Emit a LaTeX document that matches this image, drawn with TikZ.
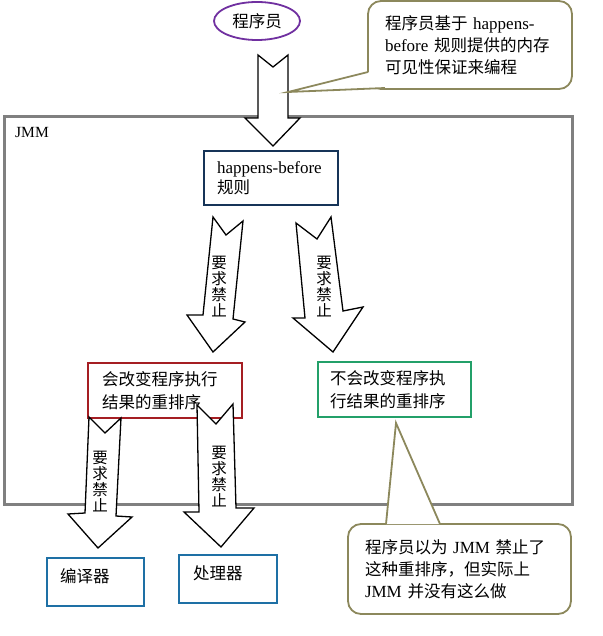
\documentclass[tikz,border=0pt]{standalone}
\usepackage{fontspec}
\setmainfont{Liberation Serif}
\newfontfamily\cjk{Noto Sans CJK SC}
\usetikzlibrary{shapes.geometric}
\definecolor{zise}{RGB}{112,48,160}
\definecolor{kuanghui}{RGB}{128,128,128}
\definecolor{shenlan}{RGB}{22,52,88}
\definecolor{anhong}{RGB}{165,30,35}
\definecolor{lvse}{RGB}{35,160,105}
\definecolor{lanse}{RGB}{30,112,165}
\definecolor{ganlan}{RGB}{140,136,92}

\begin{document}
\begin{tikzpicture}[x=1pt, y=-1pt,
    kuang/.style={draw, line width=1.8pt, minimum height=55pt, align=left,
                  font=\fontsize{17}{22}\selectfont},
    zhkuang/.style={kuang, font=\cjk\fontsize{16.5}{23}\selectfont},
    jiantou/.style={draw=black, fill=white, line width=1.3pt, line join=miter},
    shuzi/.style={font=\cjk\fontsize{15.5}{16}\selectfont, align=center, inner sep=0pt},
    shuoming/.style={draw=ganlan, fill=white, line width=1.8pt, rounded corners=13pt,
                     align=left, inner xsep=17pt, font=\fontsize{17}{22}\selectfont},
    jianjian/.style={draw=ganlan, line width=1.8pt}]
    \useasboundingbox (0,0) rectangle (602,636);
    % JMM 框
    \node[draw=kuanghui, line width=3pt, minimum width=568pt, minimum height=387pt]
          (jmm) at (288,310.5) {};
    \node[font=\fontsize{15.5}{18}\selectfont, anchor=west, inner sep=0pt] (jmmbiao) at (15,133) {JMM};
    % 程序员
    \node[ellipse, draw=zise, line width=1.8pt, minimum width=86pt, minimum height=38pt,
          inner sep=0pt, font=\cjk\fontsize{16.5}{20}\selectfont] (chengxuyuan) at (257,21) {程序员};
    % 规则与重排序
    \node[kuang, draw=shenlan, minimum width=134pt, minimum height=54pt, text width=108pt,
          inner xsep=13pt, font=\fontsize{17}{20}\selectfont] (guize) at (271,178)
          {happens-before\\{\cjk\fontsize{16.5}{20}\selectfont 规则}};
    \node[zhkuang, draw=anhong, minimum width=154pt, text width=126pt, inner xsep=14pt]
          (hui) at (165,390.5) {会改变程序执行\\结果的重排序};
    \node[zhkuang, draw=lvse, minimum width=153pt, text width=129pt, inner xsep=12pt]
          (buhui) at (394.5,389.5) {不会改变程序执\\行结果的重排序};
    \node[zhkuang, draw=lanse, minimum width=97pt, minimum height=48pt, text width=71pt,
          inner xsep=13pt, text depth=12pt] (bianyiqi) at (95.5,582) {编译器};
    \node[zhkuang, draw=lanse, minimum width=98pt, minimum height=48pt, text width=70pt,
          inner xsep=14pt, text depth=12pt] (chuliqi) at (228,579) {处理器};
    % 箭头
    \draw[jiantou] (258,55) -- (273,67) -- (288,55) -- (288,118) -- (300,118)
          -- (273,146) -- (245,118) -- (258,118) -- cycle;
    \draw[jiantou] (213,217) -- (226,235) -- (243,221) -- (233,319) -- (245,322)
          -- (213,352) -- (187,315) -- (203,315) -- cycle;
    \draw[jiantou] (296,223) -- (317,239) -- (331,217) -- (343,311) -- (363,307)
          -- (333,352) -- (293,318) -- (305,318) -- cycle;
    \draw[jiantou] (89,417) -- (105,433) -- (121,418) -- (116,516) -- (132,517)
          -- (98,548) -- (68,514) -- (85,513) -- cycle;
    \draw[jiantou] (197,405) -- (216,424) -- (233,404) -- (236,508) -- (254,508)
          -- (221,547) -- (184,512) -- (199,512) -- cycle;
    \node[shuzi] (yaoqiu1) at (219,287) {要\\求\\禁\\止};
    \node[shuzi] (yaoqiu2) at (324,287) {要\\求\\禁\\止};
    \node[shuzi] (yaoqiu3) at (100,482) {要\\求\\禁\\止};
    \node[shuzi] (yaoqiu4) at (219,477) {要\\求\\禁\\止};
    % 说明
    \node[shuoming, minimum width=204pt, minimum height=88pt, text width=170pt]
          (shuoming1) at (470,45)
          {{\cjk\fontsize{16.5}{22}\selectfont 程序员基于} happens-\\before {\cjk\fontsize{16.5}{22}\selectfont 规则提供的内存}\\{\cjk\fontsize{16.5}{22}\selectfont 可见性保证来编程}};
    \coordinate (jian1) at (288,92);
    \fill[white] (368,72) -- (jian1) -- (385,88) -- cycle;
    \draw[jianjian] (368,72) -- (jian1) -- (385,88);
    \node[shuoming, minimum width=223pt, minimum height=90pt, text width=189pt]
          (shuoming2) at (459.5,569)
          {{\cjk\fontsize{16.5}{22}\selectfont 程序员以为} JMM {\cjk\fontsize{16.5}{22}\selectfont 禁止了}\\{\cjk\fontsize{16.5}{22}\selectfont 这种重排序，但实际上}\\JMM {\cjk\fontsize{16.5}{22}\selectfont 并没有这么做}};
    \coordinate (jian2) at (396,423);
    \fill[white] (386,524) -- (jian2) -- (440,524) -- cycle;
    \draw[jianjian] (386,524) -- (jian2) -- (440,524);
\end{tikzpicture}
\end{document}
